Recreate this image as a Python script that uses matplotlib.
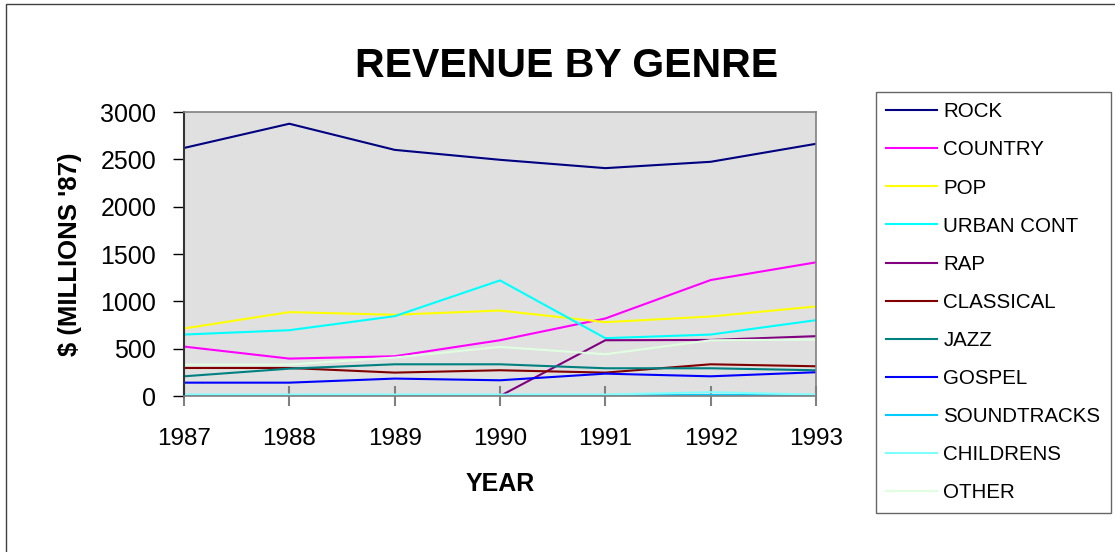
import matplotlib
matplotlib.use("Agg")
import matplotlib.pyplot as plt
from matplotlib.patches import Rectangle

plt.rcParams["font.family"] = ["Liberation Sans", "DejaVu Sans"]

# revenue in $ millions ('87 dollars), one list per genre
years = [1987, 1988, 1989, 1990, 1991, 1992, 1993]
genres = ["ROCK", "COUNTRY", "POP", "URBAN CONT", "RAP", "CLASSICAL",
          "JAZZ", "GOSPEL", "SOUNDTRACKS", "CHILDRENS", "OTHER"]
rock        = [2620, 2876, 2600, 2495, 2407, 2474, 2664]
country     = [522, 395, 420, 589, 819, 1225, 1412]
pop         = [713, 886, 858, 903, 780, 840, 946]
urban_cont  = [649, 695, 843, 1221, 611, 649, 801]
rap         = [0, 0, 0, 0, 589, 592, 632]
classical   = [296, 296, 247, 272, 247, 335, 314]
jazz        = [208, 289, 335, 335, 293, 293, 272]
gospel      = [141, 141, 184, 166, 236, 208, 251]
soundtracks = [8, 8, 8, 8, 8, 10, 8]
childrens   = [15, 15, 15, 15, 15, 40, 15]
other       = [332, 332, 406, 519, 441, 589, 596]

series = [rock, country, pop, urban_cont, rap, classical,
          jazz, gospel, soundtracks, childrens, other]
colors = ["#000080", "#FF00FF", "#FFFF00", "#00FFFF", "#800080", "#800000",
          "#008080", "#0000FF", "#00CCFF", "#80FFFF", "#E0FFE0"]

W, H = 1115, 552
fig = plt.figure(figsize=(W / 100, H / 100), dpi=100)
fig.patch.set_facecolor("white")

# outer chart frame (runs off the right and bottom edges)
fig.patches.append(Rectangle((6 / W, -0.2), 1.2, (H - 4) / H + 0.2,
                             transform=fig.transFigure, fill=False,
                             edgecolor="#404040", lw=1.0))

ax = fig.add_axes([184 / W, 1 - 396 / H, (816 - 184) / W, (396 - 112) / H])
ax.set_facecolor("#E0E0E0")

for vals, name, c in zip(series, genres, colors):
    ax.plot(years, vals, color=c, lw=1.5, label=name, solid_joinstyle="miter")

ax.set_xlim(1987, 1993)
ax.set_ylim(0, 3000)
ax.set_xticks(years)
ax.set_yticks(range(0, 3001, 500))

for side in ("top", "right"):
    ax.spines[side].set_color("#808080")
    ax.spines[side].set_linewidth(1.2)
ax.spines["left"].set_color("#333333")
ax.spines["left"].set_linewidth(1.5)
ax.spines["bottom"].set_color("#808080")
ax.spines["bottom"].set_linewidth(1.2)

ax.tick_params(axis="y", direction="out", length=8, width=1, color="black",
               labelsize=18, pad=12)
ax.tick_params(axis="x", direction="inout", length=14, width=1.5,
               color="#808080", labelsize=17.5, pad=16)

fig.text(567 / W, 1 - 66 / H, "REVENUE BY GENRE", ha="center", va="center",
         fontsize=29.5, fontweight="bold")
fig.text(70 / W, 1 - 254 / H, "$ (MILLIONS '87)", ha="center", va="center",
         rotation=90, fontsize=18.5, fontweight="bold")
fig.text(500 / W, 1 - 484 / H, "YEAR", ha="center", va="center",
         fontsize=18, fontweight="bold")

leg = fig.legend(loc="upper left", bbox_to_anchor=(876 / W, 1 - 92 / H),
                 bbox_transform=fig.transFigure, borderaxespad=0,
                 fontsize=14.8, frameon=True, fancybox=False, shadow=False,
                 handlelength=2.45, handletextpad=0.33, labelspacing=0.93,
                 borderpad=0.5)
leg.get_frame().set_edgecolor("#404040")
leg.get_frame().set_linewidth(1.0)
for line in leg.get_lines():
    line.set_linewidth(1.5)

fig.savefig("out.png", dpi=100, facecolor="white")
